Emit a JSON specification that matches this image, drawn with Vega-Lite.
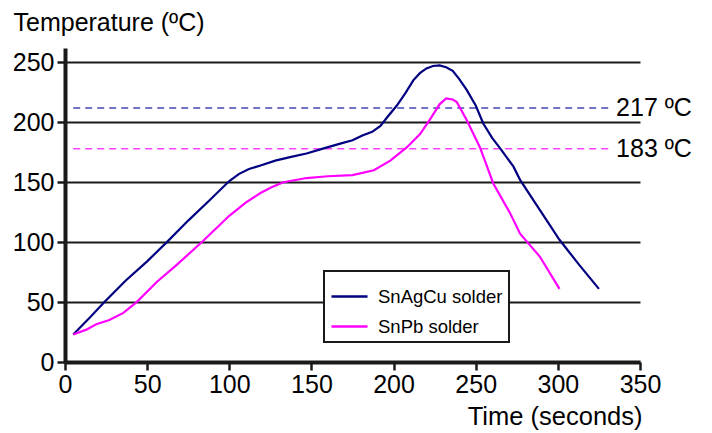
{
  "$schema": "https://vega.github.io/schema/vega-lite/v6.json",
  "width": 575,
  "height": 314,
  "autosize": {"type": "none"},
  "padding": {"left": 65, "top": 48, "right": 72, "bottom": 71},
  "background": "white",
  "config": {
    "font": "Liberation Sans",
    "view": {"stroke": null}
  },
  "datasets": {
    "curves": [
      {"series": "SnAgCu solder", "t": 5, "temp": 23},
      {"series": "SnAgCu solder", "t": 15, "temp": 37},
      {"series": "SnAgCu solder", "t": 24, "temp": 50},
      {"series": "SnAgCu solder", "t": 37, "temp": 68},
      {"series": "SnAgCu solder", "t": 50, "temp": 84},
      {"series": "SnAgCu solder", "t": 62, "temp": 100},
      {"series": "SnAgCu solder", "t": 75, "temp": 118},
      {"series": "SnAgCu solder", "t": 88, "temp": 135},
      {"series": "SnAgCu solder", "t": 100, "temp": 151},
      {"series": "SnAgCu solder", "t": 106, "temp": 157},
      {"series": "SnAgCu solder", "t": 112, "temp": 161},
      {"series": "SnAgCu solder", "t": 119, "temp": 164},
      {"series": "SnAgCu solder", "t": 128, "temp": 168},
      {"series": "SnAgCu solder", "t": 137, "temp": 171},
      {"series": "SnAgCu solder", "t": 147, "temp": 174},
      {"series": "SnAgCu solder", "t": 157, "temp": 178},
      {"series": "SnAgCu solder", "t": 167, "temp": 182},
      {"series": "SnAgCu solder", "t": 175, "temp": 185},
      {"series": "SnAgCu solder", "t": 181, "temp": 189},
      {"series": "SnAgCu solder", "t": 187, "temp": 192},
      {"series": "SnAgCu solder", "t": 192, "temp": 197},
      {"series": "SnAgCu solder", "t": 196, "temp": 204},
      {"series": "SnAgCu solder", "t": 202, "temp": 214},
      {"series": "SnAgCu solder", "t": 207, "temp": 224},
      {"series": "SnAgCu solder", "t": 212, "temp": 235},
      {"series": "SnAgCu solder", "t": 216, "temp": 241},
      {"series": "SnAgCu solder", "t": 220, "temp": 245},
      {"series": "SnAgCu solder", "t": 224, "temp": 247},
      {"series": "SnAgCu solder", "t": 228, "temp": 247.5},
      {"series": "SnAgCu solder", "t": 232, "temp": 246},
      {"series": "SnAgCu solder", "t": 236, "temp": 243},
      {"series": "SnAgCu solder", "t": 240, "temp": 236},
      {"series": "SnAgCu solder", "t": 244.5, "temp": 227},
      {"series": "SnAgCu solder", "t": 250, "temp": 214},
      {"series": "SnAgCu solder", "t": 254.6, "temp": 199},
      {"series": "SnAgCu solder", "t": 260, "temp": 187},
      {"series": "SnAgCu solder", "t": 265, "temp": 178},
      {"series": "SnAgCu solder", "t": 273, "temp": 163},
      {"series": "SnAgCu solder", "t": 277, "temp": 152},
      {"series": "SnAgCu solder", "t": 289, "temp": 127},
      {"series": "SnAgCu solder", "t": 301, "temp": 102},
      {"series": "SnAgCu solder", "t": 313, "temp": 81},
      {"series": "SnAgCu solder", "t": 325, "temp": 61},
      {"series": "SnPb solder", "t": 5, "temp": 23},
      {"series": "SnPb solder", "t": 13, "temp": 27},
      {"series": "SnPb solder", "t": 19, "temp": 31.5},
      {"series": "SnPb solder", "t": 27, "temp": 35},
      {"series": "SnPb solder", "t": 35.5, "temp": 41},
      {"series": "SnPb solder", "t": 43.6, "temp": 50},
      {"series": "SnPb solder", "t": 56, "temp": 67},
      {"series": "SnPb solder", "t": 68, "temp": 81},
      {"series": "SnPb solder", "t": 84, "temp": 101},
      {"series": "SnPb solder", "t": 100, "temp": 122},
      {"series": "SnPb solder", "t": 110, "temp": 133},
      {"series": "SnPb solder", "t": 119, "temp": 141},
      {"series": "SnPb solder", "t": 126, "temp": 146},
      {"series": "SnPb solder", "t": 133, "temp": 150},
      {"series": "SnPb solder", "t": 147, "temp": 153.5},
      {"series": "SnPb solder", "t": 160, "temp": 155},
      {"series": "SnPb solder", "t": 175, "temp": 156},
      {"series": "SnPb solder", "t": 188, "temp": 160},
      {"series": "SnPb solder", "t": 198, "temp": 168},
      {"series": "SnPb solder", "t": 208, "temp": 179},
      {"series": "SnPb solder", "t": 216, "temp": 190},
      {"series": "SnPb solder", "t": 222, "temp": 202},
      {"series": "SnPb solder", "t": 228, "temp": 215},
      {"series": "SnPb solder", "t": 232, "temp": 220},
      {"series": "SnPb solder", "t": 236, "temp": 219},
      {"series": "SnPb solder", "t": 238.5, "temp": 217},
      {"series": "SnPb solder", "t": 244.5, "temp": 202},
      {"series": "SnPb solder", "t": 252.6, "temp": 179},
      {"series": "SnPb solder", "t": 260.7, "temp": 149},
      {"series": "SnPb solder", "t": 271, "temp": 124},
      {"series": "SnPb solder", "t": 277, "temp": 107},
      {"series": "SnPb solder", "t": 289, "temp": 88},
      {"series": "SnPb solder", "t": 301, "temp": 61}
    ],
    "refs": [
      {"series": "SnAgCu solder", "x0": 5, "x1": 333, "y": 212, "label": "217 ºC"},
      {"series": "SnPb solder", "x0": 5, "x1": 333, "y": 178, "label": "183 ºC"}
    ]
  },
  "layer": [
    {
      "data": {"name": "refs"},
      "transform": [{"filter": "datum.series === 'SnAgCu solder'"}],
      "mark": {"type": "rule", "color": "#4848b4", "strokeWidth": 1.5, "strokeDash": [7, 5]},
      "encoding": {
        "x": {
          "field": "x0", "type": "quantitative",
          "scale": {"domain": [0, 350], "nice": false},
          "title": "Time (seconds)",
          "axis": {
            "title": "Time (seconds)",
            "values": [0, 50, 100, 150, 200, 250, 300, 350],
            "grid": false,
            "domainColor": "#1a1a1a", "domainWidth": 4,
            "tickColor": "#1a1a1a", "tickWidth": 2.5, "tickSize": 8,
            "labelFontSize": 25, "labelColor": "black", "labelPadding": 2, "labelFlush": false,
            "titleFontSize": 25.5, "titleFontWeight": "normal", "titleColor": "black",
            "titleAlign": "right", "titleBaseline": "alphabetic", "titleX": 577, "titleY": 62
          }
        },
        "x2": {"field": "x1"},
        "y": {
          "field": "y", "type": "quantitative",
          "scale": {"domain": [0, 262], "nice": false},
          "title": "Temperature (ºC)",
          "axis": {
            "title": "Temperature (ºC)",
            "values": [0, 50, 100, 150, 200, 250],
            "grid": true, "gridColor": "#1a1a1a", "gridWidth": 2,
            "domainColor": "#1a1a1a", "domainWidth": 4,
            "tickColor": "#1a1a1a", "tickWidth": 2.5, "tickSize": 8,
            "labelFontSize": 25, "labelColor": "black", "labelPadding": 3,
            "titleFontSize": 25, "titleFontWeight": "normal", "titleColor": "black",
            "titleAngle": 0, "titleAlign": "left", "titleBaseline": "alphabetic", "titleX": -52, "titleY": -18
          }
        }
      }
    },
    {
      "data": {"name": "refs"},
      "transform": [{"filter": "datum.series === 'SnPb solder'"}],
      "mark": {"type": "rule", "color": "#ff40ff", "strokeWidth": 1.5, "strokeDash": [7, 5]},
      "encoding": {
        "x": {"field": "x0", "type": "quantitative", "title": "Time (seconds)"},
        "x2": {"field": "x1"},
        "y": {"field": "y", "type": "quantitative", "title": "Temperature (ºC)"}
      }
    },
    {
      "data": {"name": "refs"},
      "mark": {"type": "text", "align": "left", "baseline": "middle", "dx": 4, "fontSize": 25, "color": "black"},
      "encoding": {
        "x": {"field": "x1", "type": "quantitative", "title": "Time (seconds)"},
        "y": {"field": "y", "type": "quantitative", "title": "Temperature (ºC)"},
        "text": {"field": "label"}
      }
    },
    {
      "data": {"name": "curves"},
      "mark": {"type": "line", "strokeWidth": 2.2},
      "encoding": {
        "x": {"field": "t", "type": "quantitative", "title": "Time (seconds)"},
        "y": {"field": "temp", "type": "quantitative", "title": "Temperature (ºC)"},
        "color": {
          "field": "series", "type": "nominal",
          "scale": {"domain": ["SnAgCu solder", "SnPb solder"], "range": ["#000080", "#ff00ff"]},
          "legend": {
            "orient": "none", "legendX": 259, "legendY": 223,
            "title": null,
            "symbolType": "stroke", "symbolSize": 1300, "symbolStrokeWidth": 2.5,
            "labelFontSize": 18.5, "labelColor": "black", "labelOffset": 9,
            "fillColor": "white", "strokeColor": "#1a1a1a",
            "padding": 6, "rowPadding": 1,
            "encode": {"legend": {"update": {"strokeWidth": {"value": 2}}}}
          }
        }
      }
    }
  ]
}
